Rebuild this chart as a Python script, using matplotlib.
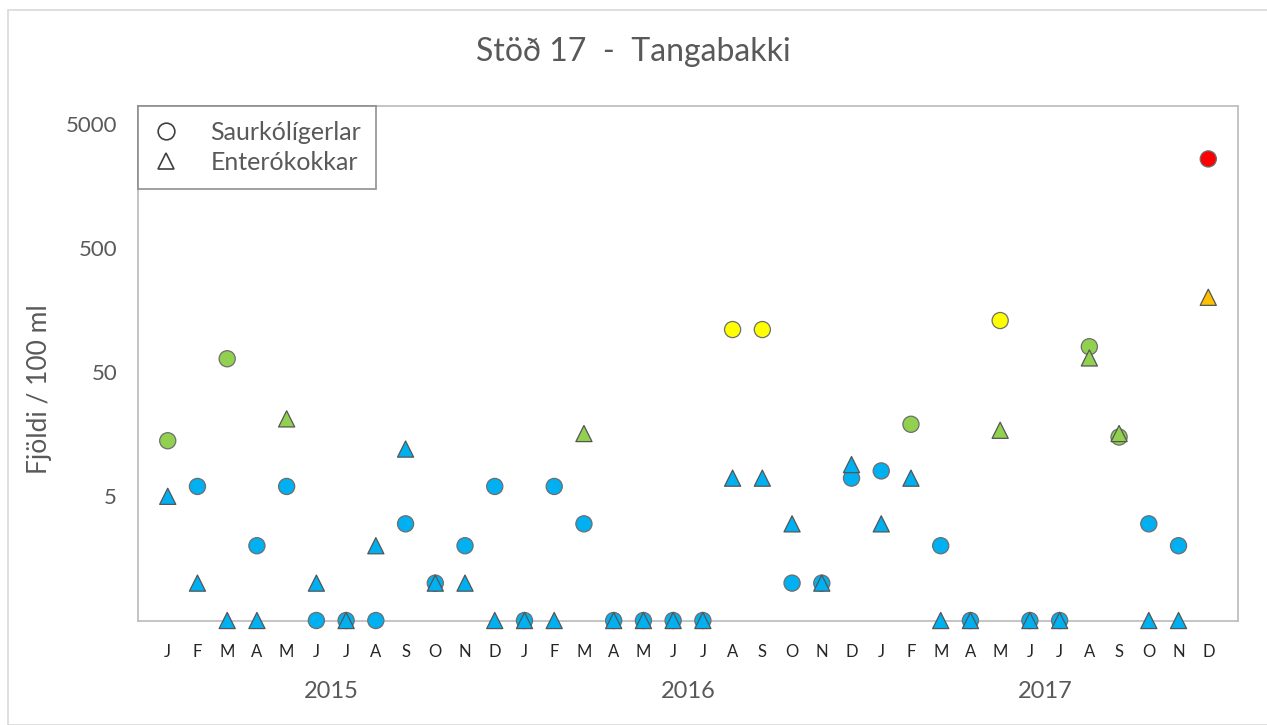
import matplotlib.pyplot as plt
from matplotlib.lines import Line2D
from matplotlib.patches import Rectangle

plt.rcParams['font.family'] = ['Lato', 'DejaVu Sans']

# months Jan 2015 .. Dec 2017
months = list("JFMAMJJASOND") * 3
years = ["2015", "2016", "2017"]

# Saurkólígerlar (circles), 0.5 = below detection
saur = [14, 6, 64, 2, 6, 0.5, 0.5, 0.5, 3, 1, 2, 6,
        0.5, 6, 3, 0.5, 0.5, 0.5, 0.5, 110, 110, 1, 1, 7,
        8, 19, 2, 0.5, 130, 0.5, 0.5, 80, 15, 3, 2, 2600]
saur_cls = ["g", "b", "g", "b", "b", "b", "b", "b", "b", "b", "b", "b",
            "b", "b", "b", "b", "b", "b", "b", "y", "y", "b", "b", "b",
            "b", "g", "b", "b", "y", "b", "b", "g", "g", "b", "b", "r"]

# Enterókokkar (triangles)
ent = [5, 1, 0.5, 0.5, 21, 1, 0.5, 2, 12, 1, 1, 0.5,
       0.5, 0.5, 16, 0.5, 0.5, 0.5, 0.5, 7, 7, 3, 1, 9,
       3, 7, 0.5, 0.5, 17, 0.5, 0.5, 65, 16, 0.5, 0.5, 200]
ent_cls = ["b", "b", "b", "b", "g", "b", "b", "b", "b", "b", "b", "b",
           "b", "b", "g", "b", "b", "b", "b", "b", "b", "b", "b", "b",
           "b", "b", "b", "b", "g", "b", "b", "g", "g", "b", "b", "o"]

colors = {"b": "#00B0F0", "g": "#92D050", "y": "#FFFF00",
          "r": "#FF0000", "o": "#FFC000"}
grey = "#595959"

fig = plt.figure(figsize=(12.67, 7.25), dpi=100)
fig.patches.append(Rectangle((8 / 1267, 0), 1.0, 1 - 10 / 725, transform=fig.transFigure,
                             fill=False, edgecolor="#D9D9D9", linewidth=1.2))
ax = fig.add_axes([138 / 1267, 104.5 / 725, 1100 / 1267, 515 / 725])

x = list(range(len(months)))
ax.scatter(x, saur, s=135, marker="o", c=[colors[c] for c in saur_cls],
           edgecolors="#6E6E6E", linewidths=0.9, zorder=3, clip_on=False)
ax.scatter(x, ent, s=135, marker="^", c=[colors[c] for c in ent_cls],
           edgecolors="#555555", linewidths=0.9, zorder=4, clip_on=False)

ax.set_yscale("log")
ax.set_ylim(0.5, 7000)
ax.set_xlim(-1, 36)
ax.set_yticks([5, 50, 500, 5000])
ax.set_yticklabels(["5", "50", "500", "5000"])
ax.minorticks_off()
ax.set_xticks(x)
ax.set_xticklabels(months)
ax.tick_params(axis="x", length=0, pad=17, labelsize=12, labelcolor="#262626")
ax.tick_params(axis="y", length=0, pad=15, labelsize=16, labelcolor=grey)

for s in ax.spines.values():
    s.set_color("#BFBFBF")
    s.set_linewidth(1.3)

for i, yr in enumerate(years):
    ax.text(12 * i + 5.5, -0.137, yr, transform=ax.get_xaxis_transform(),
            ha="center", va="center", fontsize=17, color=grey)

ax.set_ylabel("Fjöldi / 100 ml", fontsize=19, color=grey)
ax.yaxis.set_label_coords(-0.078, 0.45)
fig.text(0.5, 1 - 52 / 725, "Stöð 17  -  Tangabakki", ha="center", va="center",
         fontsize=23, color=grey)

handles = [Line2D([], [], marker="o", ls="none", mfc="none", mec="#404040", ms=12, mew=1.2),
           Line2D([], [], marker="^", ls="none", mfc="none", mec="#404040", ms=12, mew=1.2)]
leg = ax.legend(handles, ["Saurkólígerlar", "Enterókokkar"], loc="upper left",
                bbox_to_anchor=(0, 1), borderaxespad=0, fontsize=18, frameon=True,
                fancybox=False, handlelength=1.0, handletextpad=1.3, labelspacing=0.3,
                borderpad=0.6, labelcolor=grey)
leg.get_frame().set_edgecolor("#7F7F7F")
leg.get_frame().set_linewidth(1.3)

fig.savefig("out.png", dpi=100)
